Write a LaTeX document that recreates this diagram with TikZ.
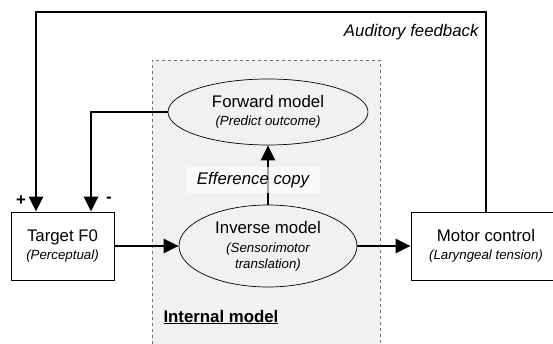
\documentclass[tikz,border=0pt]{standalone}
\usepackage{fontspec}
\setmainfont{Liberation Sans}
\usetikzlibrary{arrows.meta,shapes.geometric}

\definecolor{panelgray}{HTML}{F0F1F3}
\definecolor{dashgray}{HTML}{707070}
\newcommand{\subfont}{\fontsize{13.3}{15}\selectfont\itshape}

\tikzset{
  flow/.style={line width=2.4pt, -{Triangle[length=15pt,width=14pt]}},
  block/.style={draw, line width=0.8pt, fill=white, minimum height=68pt, align=center},
  model/.style={draw, ellipse, line width=0.7pt, align=center, inner sep=0pt},
}

\begin{document}
\begin{tikzpicture}[x=1pt, y=-1pt, font=\fontsize{16.8}{18}\selectfont]
  \useasboundingbox (0,0) rectangle (553,344);

  % internal model panel
  \fill[panelgray] (152,60) rectangle (380,350);
  \draw[dashgray, dashed, line width=0.8pt] (152,350) -- (152,60) -- (380,60) -- (380,350);
  \node[anchor=base west] (intlabel) at (160,322) {\bfseries\underline{Internal model}};

  % blocks
  \node[block, minimum width=103pt] (target) at (62.5,246) {Target F0\\{\subfont (Perceptual)}};
  \node[block, minimum width=150pt] (motor) at (486,246) {Motor control\\{\subfont (Laryngeal tension)}};
  \node[model, minimum width=178pt, minimum height=82pt] (inverse) at (268,246)
    {Inverse model\\[1pt]{\subfont (Sensorimotor}\\[-2pt]{\subfont translation)}};
  \node[model, minimum width=200pt, minimum height=66pt] (forward) at (268,112)
    {Forward model\\{\subfont (Predict outcome)}};

  % efference copy
  \draw[flow] (inverse.north) -- (forward.south);
  \node[fill=white, fill opacity=0.65, text opacity=1, minimum width=133pt, minimum height=26pt,
    inner sep=0pt] (effcopy) at (253,180) {\itshape Efference copy};

  % main chain
  \draw[flow] (target.east) -- (inverse.west);
  \draw[flow] (inverse.east) -- (motor.west);

  % feedback loops
  \coordinate (fbleft) at (36,12);
  \draw[flow] (motor.north) |- (fbleft) -- (fbleft |- target.north);
  \draw[flow] (forward.west) -| ([xshift=28.5pt]target.north);
  \node[anchor=base east] (audlabel) at (482,37) {\itshape Auditory feedback};

  \node (plus) at (21,201) {\bfseries +};
  \node (minus) at (109,200) {\bfseries -};
\end{tikzpicture}
\end{document}
